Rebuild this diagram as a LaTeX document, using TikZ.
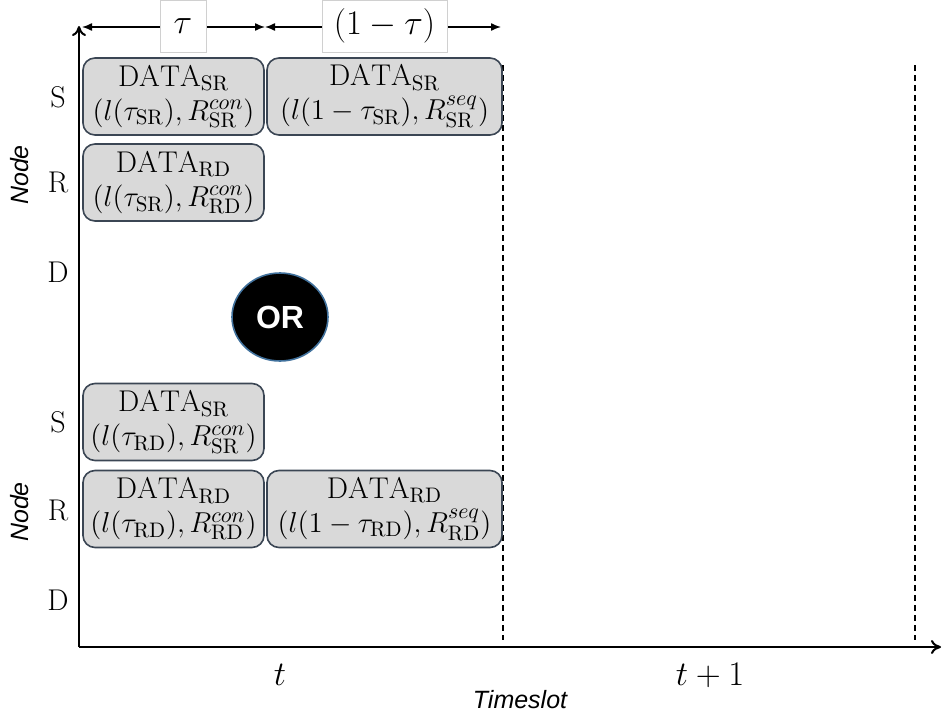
\documentclass[tikz,border=0pt]{standalone}
\usepackage{fontspec}
\newfontfamily\arialfont{Liberation Sans}
\usetikzlibrary{arrows.meta,shapes.geometric}

\definecolor{boxfill}{HTML}{D9D9D9}
\definecolor{boxline}{HTML}{3B4654}
\definecolor{orblue}{HTML}{41719C}
\definecolor{labline}{HTML}{D0D0D0}

\begin{document}
\begin{tikzpicture}[x=0.5pt,y=-0.5pt,
    slot/.style={draw=boxline,fill=boxfill,rounded corners=6pt,line width=0.8pt,
      minimum height=38.5pt,inner sep=0pt,align=center,
      font=\fontsize{15}{17}\selectfont},
    short/.style={minimum width=90.5pt},
    long/.style={minimum width=117.5pt},
    rowlab/.style={font=\fontsize{15}{15}\selectfont},
    axlab/.style={font=\arialfont\itshape\fontsize{12.5}{12.5}\selectfont},
    dimlab/.style={draw=labline,fill=white,line width=0.5pt,minimum height=26pt,
      inner sep=0pt,font=\fontsize{17}{17}\selectfont},
    dimarrow/.style={{Latex[length=5pt,width=4pt]}-{Latex[length=5pt,width=4pt]},line width=0.7pt},
    axis/.style={-{To[length=5pt,width=7pt]},line width=1pt},
    slotline/.style={dash pattern=on 3pt off 2pt,line width=0.6pt}]
  \useasboundingbox (0,0) rectangle (943,718);

  % axes
  \coordinate (o) at (79,647);
  \coordinate (ytop) at (79,26);
  \coordinate (xend) at (941,647);
  \draw[axis] (o) -- (ytop);
  \draw[axis] (o) -- (xend);

  % slot borders
  \draw[slotline] (503,65) -- (503,640);
  \draw[slotline] (915,65) -- (915,640);

  % tau / (1-tau) split
  \coordinate (d0) at (82,27);
  \coordinate (d1) at (265,27);
  \coordinate (d2) at (501,27);
  \draw[dimarrow] (d0) -- (d1);
  \draw[dimarrow] (d1) -- (d2);
  \node[dimlab,minimum width=23pt] (tau) at (183,26) {$\tau$};
  \node[dimlab,minimum width=62.5pt] (onetau) at (384.5,26) {$(1-\tau)$};

  % upper case
  \node[rowlab] (s1) at (58,97) {S};
  \node[rowlab] (r1) at (58,182) {R};
  \node[rowlab] (d1lab) at (58,272) {D};
  \node[axlab,rotate=90] (node1) at (20,175) {Node};
  \node[slot,short] (srcon1) at (173.5,96.5)
    {$\mathrm{DATA}_{\mathrm{SR}}$\\$(l(\tau_{\mathrm{SR}}),R_{\mathrm{SR}}^{con})$};
  \node[slot,long] (srseq1) at (384.5,96.5)
    {$\mathrm{DATA}_{\mathrm{SR}}$\\$(l(1-\tau_{\mathrm{SR}}),R_{\mathrm{SR}}^{seq})$};
  \node[slot,short] (rdcon1) at (173.5,182.5)
    {$\mathrm{DATA}_{\mathrm{RD}}$\\$(l(\tau_{\mathrm{SR}}),R_{\mathrm{RD}}^{con})$};

  \node[ellipse,fill=black,draw=orblue,line width=0.8pt,minimum width=48pt,
    minimum height=44pt,text=white,font=\arialfont\bfseries\fontsize{16}{16}\selectfont]
    (or) at (280,317) {OR};

  % lower case
  \node[rowlab] (s2) at (58,422) {S};
  \node[rowlab] (r2) at (58,510) {R};
  \node[rowlab] (d2lab) at (58,600) {D};
  \node[axlab,rotate=90] (node2) at (20,512) {Node};
  \node[slot,short] (srcon2) at (173.5,422)
    {$\mathrm{DATA}_{\mathrm{SR}}$\\$(l(\tau_{\mathrm{RD}}),R_{\mathrm{SR}}^{con})$};
  \node[slot,short] (rdcon2) at (173.5,509)
    {$\mathrm{DATA}_{\mathrm{RD}}$\\$(l(\tau_{\mathrm{RD}}),R_{\mathrm{RD}}^{con})$};
  \node[slot,long] (rdseq2) at (384.5,509)
    {$\mathrm{DATA}_{\mathrm{RD}}$\\$(l(1-\tau_{\mathrm{RD}}),R_{\mathrm{RD}}^{seq})$};

  % time axis
  \node[rowlab,font=\fontsize{17}{17}\selectfont] (t) at (280,675) {$t$};
  \node[rowlab,font=\fontsize{17}{17}\selectfont] (tplus) at (710,675) {$t+1$};
  \node[axlab] (timeslot) at (520,700) {Timeslot};
\end{tikzpicture}
\end{document}
